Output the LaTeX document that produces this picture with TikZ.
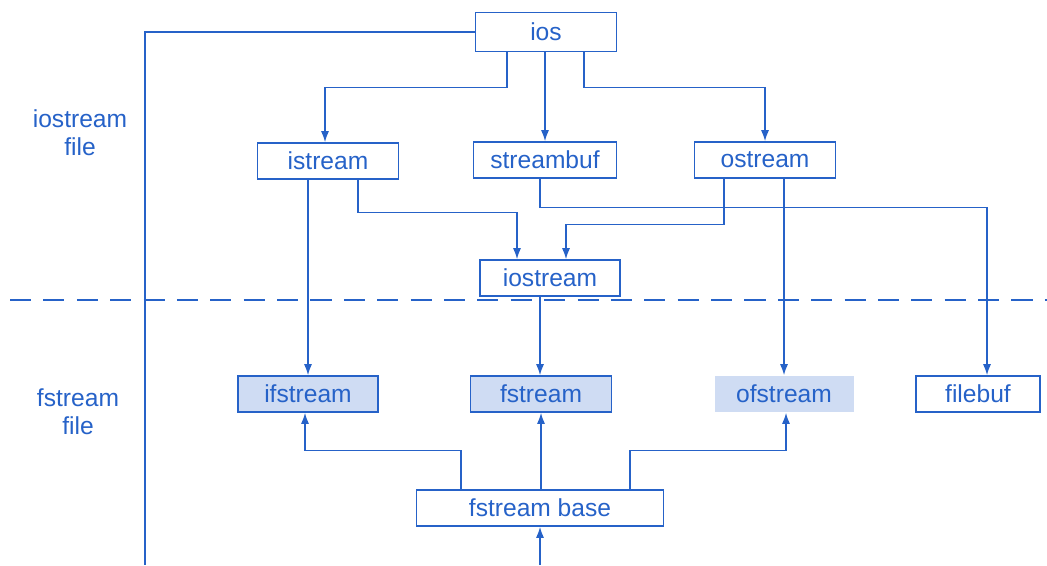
\documentclass[tikz,border=0pt]{standalone}
\usepackage{fontspec}
\setmainfont{Liberation Sans}
\usepackage{tikz}
\usetikzlibrary{arrows.meta,positioning,calc}
\definecolor{inkblue}{RGB}{38,98,200}

\begin{document}
\begin{tikzpicture}[x=0.02cm,y=-0.02cm,
    cls/.style={draw=inkblue,line width=0.9pt,text=inkblue,minimum width=2.82cm,
        minimum height=0.72cm,inner sep=0pt,font=\fontsize{14}{16}\selectfont},
    shaded/.style={cls,fill=inkblue!22},
    link/.style={inkblue,line width=0.8pt},
    arr/.style={link,-{Latex[length=2.2mm,width=1.6mm]}},
    lbl/.style={text=inkblue,align=center,font=\fontsize{14}{16}\selectfont}]
    \useasboundingbox (0,0) rectangle (1047,565);

    % Boxes
    \node[cls,minimum height=0.78cm] (ios) at (546,32) {ios};
    \node[cls] (istream) at (328,161) {istream};
    \node[cls,minimum width=2.86cm] (streambuf) at (545,160) {streambuf};
    \node[cls] (ostream) at (765,160) {ostream};
    \node[cls,minimum width=2.8cm] (iostream) at (550,278) {iostream};
    \node[shaded,minimum width=2.8cm] (ifstream) at (308,394) {ifstream};
    \node[shaded] (fstream) at (541,394) {fstream};
    \node[shaded,draw=none,minimum width=2.78cm] (ofstream) at (784,394) {ofstream};
    \node[cls,minimum width=2.48cm] (filebuf) at (978,394) {filebuf};
    \node[cls,minimum width=4.94cm] (base) at (540,508) {fstream base};

    % Side labels
    \node[lbl] (iofile) at (80,133) {iostream\\file};
    \node[lbl] (ffile) at (78,412) {fstream\\file};

    % Divider
    \coordinate (dl) at (10,300);
    \coordinate (dr) at (1047,300);
    \draw[inkblue,line width=1.1pt,dash pattern=on 12pt off 7pt] (dl) -- (dr);

    % Loose ends
    \coordinate (leftend) at (145,565);
    \coordinate (bot) at (540,565);
    \draw[link] (ios.west) -| (leftend);
    \draw[arr] (bot) -- (base.south);

    % From ios
    \draw[arr] ($(ios.south)+(-39,0)$) |- ($(istream.north)+(-3,-55)$) -- ($(istream.north)+(-3,0)$);
    \draw[arr] (streambuf.north |- ios.south) -- (streambuf.north);
    \draw[arr] ($(ios.south)+(38,0)$) |- ($(ostream.north)+(0,-54)$) -- (ostream.north);

    % Into iostream, fstream side
    \draw[arr] (ifstream.north |- istream.south) -- (ifstream.north);
    \draw[arr] ($(istream.south)+(30,0)$) |- ($(iostream.north)+(-33,-47)$) -- ($(iostream.north)+(-33,0)$);
    \draw[arr] ($(ostream.south)+(-41,0)$) |- ($(iostream.north)+(16,-35)$) -- ($(iostream.north)+(16,0)$);
    \draw[arr] ($(streambuf.south)+(-5,0)$) |- ($(filebuf.north)+(9,-168)$) -- ($(filebuf.north)+(9,0)$);
    \draw[arr] (ofstream.north |- ostream.south) -- (ofstream.north);
    \draw[arr] ($(fstream.north |- iostream.south)+(-1,0)$) -- ($(fstream.north)+(-1,0)$);

    % From fstream base
    \draw[arr] ($(base.north)+(-79,0)$) |- ($(ifstream.south)+(-3,38)$) -- ($(ifstream.south)+(-3,0)$);
    \draw[arr] (fstream.south |- base.north) -- (fstream.south);
    \draw[arr] ($(base.north)+(90,0)$) |- ($(ofstream.south)+(2,38)$) -- ($(ofstream.south)+(2,0)$);
\end{tikzpicture}
\end{document}
